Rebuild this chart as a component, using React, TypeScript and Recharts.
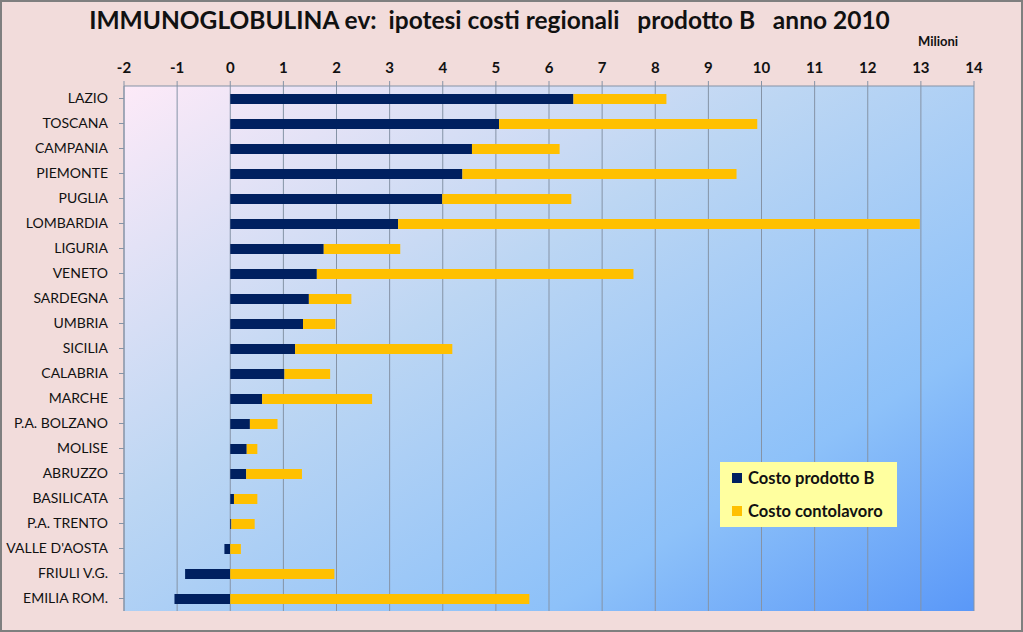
import { Bar, BarChart, CartesianGrid, XAxis, YAxis } from "recharts"

const regions = [
  "LAZIO",
  "TOSCANA",
  "CAMPANIA",
  "PIEMONTE",
  "PUGLIA",
  "LOMBARDIA",
  "LIGURIA",
  "VENETO",
  "SARDEGNA",
  "UMBRIA",
  "SICILIA",
  "CALABRIA",
  "MARCHE",
  "P.A. BOLZANO",
  "MOLISE",
  "ABRUZZO",
  "BASILICATA",
  "P.A. TRENTO",
  "VALLE D'AOSTA",
  "FRIULI V.G.",
  "EMILIA ROM.",
]

// milioni di euro
const costoProdotto = [
  6.46, 5.06, 4.55, 4.37, 3.99, 3.16, 1.76, 1.63, 1.48, 1.37, 1.22, 1.02, 0.6, 0.37, 0.31, 0.3, 0.07, 0.02,
  -0.11, -0.85, -1.05,
]
const costoContolavoro = [
  1.75, 4.86, 1.65, 5.16, 2.43, 9.82, 1.44, 5.96, 0.8, 0.61, 2.96, 0.86, 2.07, 0.52, 0.2, 1.05, 0.44, 0.44,
  0.2, 1.96, 5.63,
]

const xTicks = [-2, -1, 0, 1, 2, 3, 4, 5, 6, 7, 8, 9, 10, 11, 12, 13, 14]

const data = regions.map((name, i) => ({
  name,
  prodotto: costoProdotto[i],
  contolavoro: costoContolavoro[i],
}))

const NAVY = "#002060"
const ORANGE = "#FFC000"
const FONT = "Lato, 'Open Sans', sans-serif"

export default function App() {
  return (
    <div
      style={{
        position: "absolute",
        left: 0,
        top: 0,
        width: 1023,
        height: 632,
        background: "#F2DCDB",
        boxSizing: "border-box",
        border: "2px solid #7F7F7F",
        fontFamily: FONT,
      }}
    >
      <div
        style={{
          position: "absolute",
          left: 0,
          width: 975,
          top: 3,
          textAlign: "center",
          fontSize: 24.5,
          fontWeight: 700,
          color: "#111",
          whiteSpace: "pre",
        }}
      >
        {"IMMUNOGLOBULINA ev:  ipotesi costi regionali   prodotto B   anno 2010"}
      </div>
      <div
        style={{
          position: "absolute",
          left: 916,
          top: 31,
          fontSize: 13,
          fontWeight: 700,
          color: "#111",
        }}
      >
        Milioni
      </div>
      <div style={{ position: "absolute", left: -2, top: -2 }}>
        <BarChart
          width={1023}
          height={632}
          data={data}
          layout="vertical"
          stackOffset="sign"
          barSize={10}
          margin={{ top: 0, right: 49, bottom: 21, left: 0 }}
        >
          <defs>
            <linearGradient id="plotBg" x1="0" y1="0" x2="1" y2="1">
              <stop offset="0%" stopColor="#FDEAF8" />
              <stop offset="40%" stopColor="#BCD6F3" />
              <stop offset="75%" stopColor="#8DC1F9" />
              <stop offset="100%" stopColor="#5A98F8" />
            </linearGradient>
          </defs>
          <CartesianGrid horizontal={false} stroke="#8593A6" fill="url(#plotBg)" fillOpacity={1} />
          <XAxis
            type="number"
            orientation="top"
            domain={[-2, 14]}
            ticks={xTicks}
            height={86}
            tickSize={5}
            tickMargin={8}
            stroke="#8593A6"
            tick={{ fill: "#111", fontSize: 15, fontWeight: 700, fontFamily: FONT }}
            allowDataOverflow
          />
          <YAxis
            type="category"
            dataKey="name"
            width={124}
            tickSize={5}
            tickMargin={11}
            interval={0}
            stroke="#8593A6"
            tick={{ fill: "#111", fontSize: 14, fontFamily: FONT }}
          />
          <Bar dataKey="prodotto" name="Costo prodotto B" stackId="a" fill={NAVY} isAnimationActive={false} />
          <Bar dataKey="contolavoro" name="Costo contolavoro" stackId="a" fill={ORANGE} isAnimationActive={false} />
        </BarChart>
      </div>
      <div
        style={{
          position: "absolute",
          left: 718,
          top: 460,
          width: 177,
          height: 65,
          background: "#FFFF9F",
          fontSize: 16.5,
          fontWeight: 700,
          color: "#111",
        }}
      >
        {[
          { label: "Costo prodotto B", color: NAVY },
          { label: "Costo contolavoro", color: ORANGE },
        ].map((item, i) => (
          <div
            key={item.label}
            style={{ position: "absolute", left: 12, top: 6 + i * 33, display: "flex", alignItems: "center" }}
          >
            <span style={{ width: 10, height: 10, background: item.color, marginRight: 6, display: "inline-block" }} />
            <span>{item.label}</span>
          </div>
        ))}
      </div>
    </div>
  )
}
